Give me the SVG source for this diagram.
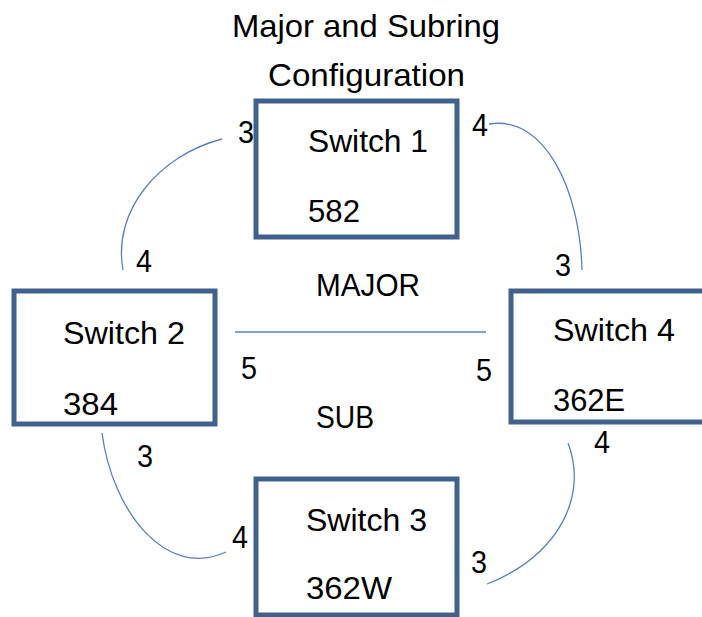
<svg xmlns="http://www.w3.org/2000/svg" width="702" height="617" viewBox="0 0 702 617">
<style>
text{font-family:"Liberation Sans",Arial,sans-serif;font-size:32px;fill:#000}
.box{fill:#fff;stroke:#41608c;stroke-width:5}
.conn{fill:none;stroke:#5b7fbd;stroke-width:1.3}
</style>
<rect width="702" height="617" fill="#fff"/>
<g id="title">
<text x="232" y="37" textLength="268" lengthAdjust="spacingAndGlyphs">Major and Subring</text>
<text x="268" y="86" textLength="197" lengthAdjust="spacingAndGlyphs">Configuration</text>
</g>
<g id="connectors">
<path class="conn" d="M222,139 C160,155 112,210 123,270"/>
<path class="conn" d="M489,124 C545,115 580,190 582,270"/>
<path class="conn" d="M235,332 L486,332"/>
<path class="conn" d="M102,433 C112,510 165,580 226,552"/>
<path class="conn" d="M568,443 C588,495 560,555 487,584"/>
</g>
<g id="switch1">
<rect class="box" x="256" y="101" width="201" height="136"/>
<text x="308" y="152" textLength="120" lengthAdjust="spacingAndGlyphs">Switch 1</text>
<text x="308" y="222" textLength="52" lengthAdjust="spacingAndGlyphs">582</text>
</g>
<g id="switch2">
<rect class="box" x="14" y="291" width="201" height="133"/>
<text x="63" y="344" textLength="122" lengthAdjust="spacingAndGlyphs">Switch 2</text>
<text x="63" y="415" textLength="55" lengthAdjust="spacingAndGlyphs">384</text>
</g>
<g id="switch4">
<rect class="box" x="511" y="291" width="200" height="131"/>
<text x="553" y="341" textLength="122" lengthAdjust="spacingAndGlyphs">Switch 4</text>
<text x="553" y="411" textLength="72" lengthAdjust="spacingAndGlyphs">362E</text>
</g>
<g id="switch3">
<rect class="box" x="256" y="479" width="201" height="136"/>
<text x="306" y="531" textLength="121" lengthAdjust="spacingAndGlyphs">Switch 3</text>
<text x="306" y="599" textLength="86" lengthAdjust="spacingAndGlyphs">362W</text>
</g>
<g id="labels">
<text x="316" y="296" textLength="104" lengthAdjust="spacingAndGlyphs">MAJOR</text>
<text x="316" y="428" textLength="58" lengthAdjust="spacingAndGlyphs">SUB</text>
<text x="238" y="143" textLength="16" lengthAdjust="spacingAndGlyphs">3</text>
<text x="472" y="136" textLength="16" lengthAdjust="spacingAndGlyphs">4</text>
<text x="136" y="272" textLength="16" lengthAdjust="spacingAndGlyphs">4</text>
<text x="555" y="276" textLength="16" lengthAdjust="spacingAndGlyphs">3</text>
<text x="241" y="379" textLength="16" lengthAdjust="spacingAndGlyphs">5</text>
<text x="476" y="381" textLength="16" lengthAdjust="spacingAndGlyphs">5</text>
<text x="137" y="467" textLength="16" lengthAdjust="spacingAndGlyphs">3</text>
<text x="594" y="453" textLength="16" lengthAdjust="spacingAndGlyphs">4</text>
<text x="232" y="548" textLength="16" lengthAdjust="spacingAndGlyphs">4</text>
<text x="471" y="573" textLength="16" lengthAdjust="spacingAndGlyphs">3</text>
</g>
</svg>
